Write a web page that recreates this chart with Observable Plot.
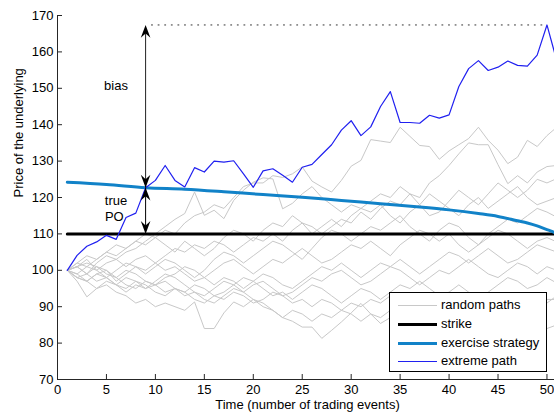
<!DOCTYPE html>
<html><head><meta charset="utf-8">
<script src="https://cdn.jsdelivr.net/npm/d3@7"></script>
<script src="https://cdn.jsdelivr.net/npm/@observablehq/plot@0.6"></script>
<style>
html,body{margin:0;padding:0;background:#fff;overflow:hidden;}
#wrap{position:relative;width:554px;height:414px;overflow:hidden;font-family:"Liberation Sans",Arial,Helvetica,sans-serif;}
#wrap svg{overflow:hidden;display:block;}
.legend{position:absolute;box-sizing:border-box;border:1.5px solid #000;background:#fff;}
.legend .row{position:absolute;left:0;height:18px;}
.legend .row span{position:absolute;font-size:13px;line-height:18px;white-space:nowrap;color:#000;}
.legend .row i{position:absolute;display:block;}
</style>
</head><body><div id="wrap"></div>
<script>
// ---- data ----
const time = [1,2,3,4,5,6,7,8,9,10,11,12,13,14,15,16,17,18,19,20,21,22,23,24,25,26,27,28,29,30,31,32,33,34,35,36,37,38,39,40,41,42,43,44,45,46,47,48,49,50,51];

const path1 = [100,102,104,103,105,104,106,108,107,109, 111,110,113,115,116,118,117,120,123,124, 124,126,125.5,126.5,128.4,124.5,122.9,121.5,124.7,128.6, 130.2,135.9,135.5,135.1,139.3,136.8,134.3,134.0,130.5,132.8, 134.5,136.2,139.3,135.7,133.0,129.3,131.1,135.7,134.0,137.0,139.3];
const path2 = [100,99,101,100,102,103,101,103,104,102, 104,106,105,107,106,108,107,105,107,109, 108,110,108,111,113,112,110,112,114,113, 116,114,117,119,118,121,120,124,126,128.8, 132,135,134.5,134.5,129,123.8,126,124,127,128.5,128.8];
const path3 = [100,101,99,102,104,103,105,106,108,110, 112,114,115.6,121.5,115.1,116.5,114.2,119.2,122,124.2, 125.4,125.1,116.9,118.4,121,123,120,118,116,118, 117,119,121,120,123,121,118,115,116,119, 122,120,118,121,124,122,120,122,125,124,125.2];
const path4 = [100,102,101,103,105,107,106,108,110,109, 107,105,108,106,104,106,109,111,110,108, 111,113,112,115,113,110,112,114,112,115, 117,116,118,115,113,116,118,121,119,117, 115,118,120,117,119,121,123,120,118,119,120];
const path5 = [100,101,103,100,98,100,102,101,99,101, 103,102,100,98,100,103,105,104,102,104, 106,108,107,105,103,106,109,111,110,108, 110,112,111,113,115,112,110,108,111,113, 112,109,107,110,112,114,113,115,117,116,114.6];
const path6 = [100,98,99,101,100,97,99,101,100,102, 100,101,99,97,98,100,102,103,101,99, 101,103,102,104,106,104,102,103,105,107, 106,108,106,104,107,109,111,110,108,110, 107,105,107,109,111,110,108,106,108,109,107.8];
const path7 = [100,101,102,101,99,98,100,99,97,96, 98,99,101,100,98,96,98,97,95,97, 99,98,96,95,97,99,101,100,102,100, 98,100,102,101,103,101,99,101,103,105, 104,102,104,106,104,102,103,105,107,106,105];
const path8 = [100,98,97,99,98,96,94,96,95,97, 99,98,96,94,93,95,97,96,94,96, 97,95,93,94,96,98,97,99,100,98, 96,97,99,101,100,98,96,98,100,99, 101,103,101,99,98,100,102,101,99,101,100];
const path9 = [100,97,92.7,95,97,96,98,97,95,96, 97,95,94,96,95,93,94,96,98,97, 95,93,94,92,94,96,95,93,91,93, 95,94,92,94,96,95,97,95,93,94, 96,94,92,94,96,98,97,95,96,98,96.5];
const path10 = [100,101,99,97,98,96,95,97,96,94, 93,95,94,92,91,93,92,94,93,91, 92,94,93,91,92,90,92,91,89,91, 90,92,91,93,92,90,89,91,90,92, 91,89,90,92,91,93,92,90,91,92,92];
const path11 = [100,98,97,95,96,94,93,91,92,90, 91,90,89,91.3,84,84,88.3,91.3,90,92, 91,89,87,89,88,86,88,87,89,88, 86,88,87,89,87,85,86,88,90,89, 87,88,90,92,91,89,90,92,93,91,93];
const path12 = [100,99,97,99,100,98,96,95,97,96, 94,95,93,94,92,91,93,95,94,92, 90,89,87,86,84.4,84.4,81.3,83.5,85.8,88.3, 90.9,88,85.4,87,89,88,86,85,87,89, 88,86,84,86,88,87,85,87,86,84,85];

const extremePath = [100,104.1,106.6,107.8,109.6,108.5,114.5,115.7,122.7,124.7, 128.8,124.7,122.9,128.2,127.0,130.0,129.7,130.1,126.5,122.8, 127.3,127.9,126.1,124.2,128.3,129.1,131.8,134.5,138.5,141.1, 137.0,139.4,145.0,149.1,140.6,140.6,140.4,142.6,141.8,142.7, 150.5,155.4,157.6,154.9,155.8,157.5,156.3,156.1,159.1,167.4,157.6];

const exerciseTime  = [1,5,9,13,17,21,25,29,33,37,40,43,45,47,48,49,50,50.5,51];
const exerciseValue = [124.2,123.6,122.7,122.3,121.6,120.8,120.1,119.2,118.3,117.4,116.6,115.6,114.8,113.6,113.0,112.2,111.2,110.7,110];

const strikeTime  = [1,51];
const strikeValue = [110,110];

const arrowTime = 9;
const biasTop = 167.4;      // extreme path maximum
const truePOTop = 122.7;    // exercise boundary at arrow time
const strikeLevel = 110;
const dottedEnd = 50;

const annotationText = ["bias","true","PO"];
const annotationX = [5.98,5.98,5.8];
const annotationY = [150.8,119.2,114.8];

const xTicks = [0,5,10,15,20,25,30,35,40,45,50];
const yTicks = [70,80,90,100,110,120,130,140,150,160,170];

const xLabel = "Time (number of trading events)";
const yLabel = "Price of the underlying";

const legendLabels = ["random paths","strike","exercise strategy","extreme path"];
const legendColors = ["#c8c8c8","#000000","#1182c8","#2020f0"];
const legendWidths = [1,3,3,1];

// ---- tables ----
const greyPaths = [path1,path2,path3,path4,path5,path6,path7,path8,path9,path10,path11,path12];
const greyRows = greyPaths.flatMap((p,k)=>p.map((v,i)=>({path:k,t:time[i],v})));
const extremeRows = extremePath.map((v,i)=>({t:time[i],v}));
const exerciseRows = exerciseValue.map((v,i)=>({t:exerciseTime[i],v}));
const strikeRows = strikeValue.map((v,i)=>({t:strikeTime[i],v}));
const annRows = annotationText.map((s,i)=>({s,x:annotationX[i],y:annotationY[i]}));

const headUp = {draw(ctx){ctx.moveTo(0,0);ctx.lineTo(4.8,12.8);ctx.lineTo(0,8.5);ctx.lineTo(-4.8,12.8);ctx.closePath();}};
const headDown = {draw(ctx){ctx.moveTo(0,0);ctx.lineTo(4.8,-12.8);ctx.lineTo(0,-8.5);ctx.lineTo(-4.8,-12.8);ctx.closePath();}};

const W=554,H=414,ML=57,MR=0,MT=15,MB=35;
const axisColor="#262626";
const font='"Liberation Sans",Arial,Helvetica,sans-serif';

const chart = Plot.plot({
  width:W,height:H,marginLeft:ML,marginRight:MR,marginTop:MT,marginBottom:MB,
  style:{fontFamily:font,fontSize:"13px",color:"#000",background:"#fff",overflow:"hidden"},
  x:{domain:[0,50.77]},
  y:{domain:[70,170]},
  marks:[
    Plot.line(greyRows,{x:"t",y:"v",z:"path",stroke:"#c8c8c8",strokeWidth:1,clip:true}),
    Plot.line(strikeRows,{x:"t",y:"v",stroke:"#000",strokeWidth:3,clip:true}),
    Plot.line(exerciseRows,{x:"t",y:"v",stroke:"#1182c8",strokeWidth:3,curve:"monotone-x",clip:true}),
    Plot.line(extremeRows,{x:"t",y:"v",stroke:"#2020f0",strokeWidth:1.2,clip:true}),
    Plot.line([{t:arrowTime+0.6,v:biasTop},{t:dottedEnd,v:biasTop}],{x:"t",y:"v",stroke:"#333",strokeWidth:1,strokeDasharray:"1,5.6"}),
    Plot.link([{x:arrowTime,a:truePOTop,b:biasTop-1}],{x1:"x",x2:"x",y1:"a",y2:"b",stroke:"#222",strokeWidth:1}),
    Plot.link([{x:arrowTime,a:strikeLevel+1,b:truePOTop}],{x1:"x",x2:"x",y1:"a",y2:"b",stroke:"#000",strokeWidth:1}),
    Plot.dot([{x:arrowTime,y:biasTop},{x:arrowTime,y:truePOTop}],{x:"x",y:"y",symbol:headUp,r:5,fill:"#000",stroke:"none"}),
    Plot.dot([{x:arrowTime,y:truePOTop},{x:arrowTime,y:strikeLevel}],{x:"x",y:"y",symbol:headDown,r:5,fill:"#000",stroke:"none"}),
    Plot.text(annRows,{x:"x",y:"y",text:"s",fontSize:13,fill:"#000"}),
    Plot.ruleX([0],{stroke:axisColor,strokeWidth:1}),
    Plot.ruleY([70],{stroke:axisColor,strokeWidth:1}),
    Plot.tickY(yTicks,{y:d=>d,insetRight:W-ML-MR-5,stroke:axisColor}),
    Plot.tickX(xTicks,{x:d=>d,insetTop:H-MT-MB-5,stroke:axisColor}),
    Plot.axisX(xTicks,{tickSize:0,tickPadding:5,label:null,fontSize:13,fill:"#000"}),
    Plot.axisY(yTicks,{tickSize:0,tickPadding:4,label:null,fontSize:13,fill:"#000"}),
    Plot.text([xLabel],{frameAnchor:"bottom",text:d=>d,dy:29,dx:1.5,fontSize:13,fill:"#000"}),
    Plot.text([yLabel],{frameAnchor:"left",text:d=>d,rotate:-90,dx:-39,fontSize:13,fill:"#000"})
  ]
});
const wrap=document.getElementById("wrap");
wrap.appendChild(chart);

// legend
const lg=document.createElement("div");
lg.className="legend";
Object.assign(lg.style,{left:"389px",top:"292px",width:"158px",height:"80px"});
legendLabels.forEach((lab,i)=>{
  const row=document.createElement("div");
  row.className="row";
  row.style.top=(3.3+i*18.67)+"px";
  row.style.width="100%";
  const ln=document.createElement("i");
  Object.assign(ln.style,{left:"8px",width:"39px",top:Math.round(9-legendWidths[i]/2)+"px",height:legendWidths[i]+"px",background:legendColors[i]});
  const sp=document.createElement("span");
  sp.style.left="51px";sp.style.top="0px";
  sp.textContent=lab;
  row.appendChild(ln);row.appendChild(sp);
  lg.appendChild(row);
});
wrap.appendChild(lg);
</script>
</body></html>
